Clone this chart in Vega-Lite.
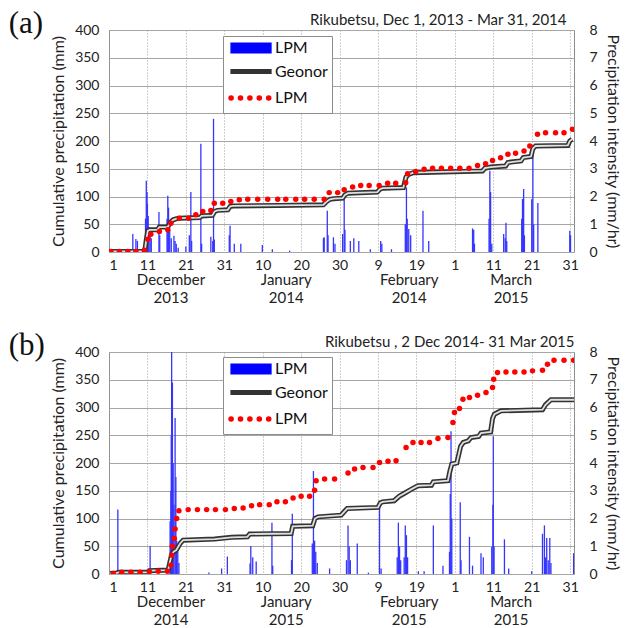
{
"$schema": "https://vega.github.io/schema/vega-lite/v6.json",
"background": "white",
"padding": {"left": 8, "top": 7, "right": 1, "bottom": 1},
"config": {
  "view": {"stroke": "#8c8c8c", "strokeWidth": 1},
  "font": "Lato",
  "axis": {"labelFont": "Lato", "titleFont": "Lato", "labelColor": "#222", "titleColor": "#222", "titleFontWeight": "normal", "labelFontSize": 14, "titleFontSize": 16},
  "legend": {"orient": "none", "legendX": 114, "legendY": 6, "title": null, "strokeColor": "#8c8c8c", "fillColor": "white", "padding": 4, "labelFont": "Lato", "labelFontSize": 16, "labelColor": "#111", "symbolSize": 324, "rowPadding": 7.5, "labelOffset": 32, "labelLimit": 300}
},
"datasets": {
  "a_int": [
    {"day":7.2,"v":0.65},{"day":8,"v":0.47},{"day":8.4,"v":0.4},{"day":10.5,"v":1.2},{"day":10.7,"v":2.57},{"day":10.9,"v":2.16},{"day":11.0,"v":1.74},{"day":11.2,"v":1.3},{"day":11.4,"v":0.9},{"day":11.7,"v":0.83},{"day":12,"v":0.5},{"day":14,"v":1.44},{"day":14.2,"v":0.6},{"day":16.1,"v":1.2},{"day":16.3,"v":2.03},{"day":16.5,"v":1.6},{"day":16.8,"v":0.8},{"day":17.2,"v":0.5},{"day":17.9,"v":0.59},{"day":18.2,"v":0.4},{"day":18.5,"v":0.3},{"day":19,"v":0.15},{"day":21,"v":0.2},{"day":21.9,"v":0.6},{"day":22.3,"v":2.16},{"day":22.5,"v":0.4},{"day":24.9,"v":3.9},{"day":25.1,"v":0.3},{"day":27.5,"v":0.55},{"day":28.0,"v":0.4},{"day":28.2,"v":4.8},{"day":28.4,"v":0.45},{"day":32.3,"v":0.6},{"day":32.5,"v":0.95},{"day":33.6,"v":0.3},{"day":35.3,"v":0.3},{"day":40.9,"v":0.25},{"day":43.5,"v":0.1},{"day":48,"v":0.05},{"day":56.8,"v":0.5},{"day":57,"v":0.53},{"day":57.8,"v":1.49},{"day":58,"v":0.6},{"day":59.4,"v":0.53},{"day":59.8,"v":0.3},{"day":61.8,"v":0.65},{"day":62.2,"v":1.97},{"day":62.4,"v":0.8},{"day":63.8,"v":0.4},{"day":64.7,"v":0.5},{"day":66,"v":0.4},{"day":69,"v":0.1},{"day":71.7,"v":0.4},{"day":72,"v":0.3},{"day":74.5,"v":0.1},{"day":78.1,"v":1.0},{"day":78.4,"v":2.33},{"day":78.6,"v":1.2},{"day":79,"v":0.83},{"day":79.5,"v":0.6},{"day":82.7,"v":1.49},{"day":84.2,"v":0.4},{"day":95.6,"v":0.85},{"day":95.9,"v":0.8},{"day":96.1,"v":0.3},{"day":99.9,"v":1.2},{"day":100.1,"v":2.93},{"day":100.3,"v":2.16},{"day":100.6,"v":0.3},{"day":103.7,"v":0.65},{"day":104.1,"v":0.5},{"day":104.3,"v":1.05},{"day":104.5,"v":0.4},{"day":108.4,"v":1.2},{"day":108.6,"v":1.91},{"day":108.9,"v":2.27},{"day":109.1,"v":0.6},{"day":111,"v":1.9},{"day":111.3,"v":3.85},{"day":111.5,"v":1.0},{"day":112.6,"v":1.77},{"day":120.9,"v":0.77},{"day":121.1,"v":0.6}
  ],
  "a_geo": [
    {"day":1,"v":1},{"day":10.3,"v":1},{"day":10.7,"v":22},{"day":11.1,"v":38},{"day":11.6,"v":40},{"day":13.6,"v":40},{"day":14.1,"v":45},{"day":16.3,"v":45},{"day":16.9,"v":53},{"day":17.7,"v":58},{"day":18.6,"v":60},{"day":19.3,"v":61},{"day":24.6,"v":62},{"day":25.1,"v":65},{"day":27.9,"v":66},{"day":28.5,"v":73},{"day":29.2,"v":75},{"day":31.9,"v":76},{"day":32.5,"v":82},{"day":33.2,"v":83},{"day":45,"v":84},{"day":56.8,"v":85},{"day":57.5,"v":90},{"day":58.5,"v":95},{"day":59.5,"v":96},{"day":61.8,"v":97},{"day":62.4,"v":103},{"day":63.2,"v":106},{"day":70.8,"v":108},{"day":71.5,"v":113},{"day":72.2,"v":115},{"day":77.6,"v":116},{"day":78.3,"v":135},{"day":79,"v":140},{"day":80.2,"v":143},{"day":98.2,"v":146},{"day":98.8,"v":151},{"day":100.3,"v":153},{"day":104.2,"v":155},{"day":104.8,"v":161},{"day":105.6,"v":162},{"day":108.2,"v":164},{"day":108.8,"v":170},{"day":110.8,"v":172},{"day":111.3,"v":186},{"day":112,"v":191},{"day":120.4,"v":192},{"day":120.9,"v":200},{"day":121.5,"v":203}
  ],
  "a_lpm": [
    {"day":1.5,"v":1},{"day":3.7,"v":1},{"day":5.9,"v":1},{"day":8.0,"v":1},{"day":10.2,"v":3},{"day":11.1,"v":23},{"day":11.9,"v":32},{"day":14.1,"v":37},{"day":16.3,"v":40},{"day":17.1,"v":52},{"day":19.3,"v":61},{"day":21.7,"v":61},{"day":23.6,"v":67},{"day":25.4,"v":73},{"day":27.5,"v":75},{"day":28.4,"v":88},{"day":30.6,"v":88},{"day":32.7,"v":91},{"day":34.9,"v":94},{"day":37.1,"v":95},{"day":39.7,"v":95},{"day":42.3,"v":95},{"day":44.9,"v":95},{"day":47.0,"v":95},{"day":49.6,"v":95},{"day":51.9,"v":95},{"day":54.4,"v":95},{"day":57.0,"v":95},{"day":58.3,"v":107},{"day":60.5,"v":107},{"day":62.2,"v":112},{"day":64.4,"v":117},{"day":66.5,"v":120},{"day":68.7,"v":120},{"day":71.3,"v":120},{"day":73.5,"v":124},{"day":75.6,"v":124},{"day":78.2,"v":125},{"day":78.7,"v":141},{"day":80.8,"v":145},{"day":83.0,"v":149},{"day":85.2,"v":151},{"day":87.5,"v":151},{"day":89.9,"v":151},{"day":92.3,"v":151},{"day":94.7,"v":151},{"day":96.9,"v":156},{"day":99.0,"v":159},{"day":100.8,"v":165},{"day":102.9,"v":170},{"day":104.8,"v":176},{"day":106.8,"v":178},{"day":109.0,"v":182},{"day":110.5,"v":191},{"day":112.5,"v":212},{"day":114.6,"v":215},{"day":117.2,"v":215},{"day":119.4,"v":215},{"day":121.6,"v":221}
  ],
  "b_int": [
    {"day":3.3,"v":2.32},{"day":11.7,"v":1.01},{"day":16.9,"v":1.9},{"day":17.1,"v":3.0},{"day":17.2,"v":5.0},{"day":17.3,"v":8.0},{"day":17.5,"v":6.9},{"day":17.7,"v":4.0},{"day":17.9,"v":2.5},{"day":18.2,"v":5.62},{"day":18.4,"v":3.5},{"day":18.6,"v":1.2},{"day":18.9,"v":0.8},{"day":19.2,"v":0.4},{"day":27,"v":0.05},{"day":30.3,"v":0.2},{"day":31.8,"v":0.63},{"day":37.7,"v":0.38},{"day":37.9,"v":1.01},{"day":38.4,"v":0.6},{"day":39.3,"v":0.45},{"day":43.4,"v":1.85},{"day":43.6,"v":0.3},{"day":48.5,"v":0.5},{"day":48.7,"v":2.17},{"day":53.9,"v":1.1},{"day":54.2,"v":3.71},{"day":54.5,"v":1.2},{"day":54.8,"v":0.8},{"day":55.2,"v":0.4},{"day":58.4,"v":0.2},{"day":62.8,"v":0.5},{"day":63.2,"v":1.75},{"day":63.5,"v":1.0},{"day":63.8,"v":0.5},{"day":65.6,"v":1.1},{"day":68.5,"v":0.05},{"day":71.4,"v":2.64},{"day":71.8,"v":0.2},{"day":76.0,"v":0.6},{"day":76.3,"v":1.85},{"day":76.6,"v":1.0},{"day":76.9,"v":0.5},{"day":77.8,"v":0.6},{"day":78.1,"v":1.75},{"day":78.4,"v":1.4},{"day":78.7,"v":0.6},{"day":81.5,"v":0.1},{"day":83,"v":0.1},{"day":85.4,"v":1.75},{"day":87.9,"v":0.3},{"day":89.6,"v":0.8},{"day":89.8,"v":2.88},{"day":90.0,"v":5.14},{"day":90.2,"v":2.0},{"day":92.4,"v":2.59},{"day":92.6,"v":0.5},{"day":94.8,"v":1.34},{"day":95.6,"v":0.3},{"day":97.8,"v":0.75},{"day":98.4,"v":0.6},{"day":100.6,"v":0.98},{"day":100.9,"v":2.5},{"day":101.0,"v":4.96},{"day":101.2,"v":1.0},{"day":103.9,"v":1.25},{"day":105,"v":0.2},{"day":111,"v":0.1},{"day":113.8,"v":1.45},{"day":114.3,"v":1.75},{"day":114.6,"v":0.6},{"day":114.9,"v":1.3},{"day":115.3,"v":0.5},{"day":115.7,"v":1.3},{"day":116.0,"v":0.4},{"day":121.9,"v":0.75}
  ],
  "b_geo": [
    {"day":1.3,"v":1},{"day":3,"v":2},{"day":3.5,"v":3},{"day":11,"v":3},{"day":11.5,"v":6},{"day":16.4,"v":7},{"day":16.8,"v":20},{"day":17.3,"v":35},{"day":17.8,"v":40},{"day":18.5,"v":43},{"day":19.5,"v":55},{"day":20.3,"v":61},{"day":28.5,"v":63},{"day":32.9,"v":66},{"day":37,"v":67},{"day":37.6,"v":72},{"day":48.4,"v":73},{"day":48.8,"v":86},{"day":54,"v":87},{"day":54.6,"v":100},{"day":55.4,"v":103},{"day":61.4,"v":106},{"day":62.3,"v":113},{"day":63,"v":118},{"day":71,"v":120},{"day":71.6,"v":128},{"day":72.2,"v":130},{"day":75.2,"v":132},{"day":76.5,"v":140},{"day":78,"v":146},{"day":79.5,"v":152},{"day":81.4,"v":159},{"day":84.9,"v":160},{"day":85.4,"v":166},{"day":89.2,"v":168},{"day":89.7,"v":185},{"day":90.2,"v":198},{"day":91.5,"v":200},{"day":92.5,"v":230},{"day":93.2,"v":237},{"day":94.5,"v":240},{"day":95.2,"v":246},{"day":97.2,"v":248},{"day":97.8,"v":254},{"day":100.3,"v":256},{"day":100.8,"v":280},{"day":101.3,"v":288},{"day":103,"v":294},{"day":113.8,"v":296},{"day":114.6,"v":305},{"day":116,"v":314},{"day":122,"v":314}
  ],
  "b_lpm": [
    {"day":2.1,"v":1},{"day":4.3,"v":3},{"day":6.7,"v":3},{"day":9.1,"v":3},{"day":11.5,"v":4},{"day":13.8,"v":5},{"day":16.2,"v":5},{"day":17.1,"v":16},{"day":17.3,"v":34},{"day":17.5,"v":50},{"day":18.0,"v":64},{"day":18.2,"v":81},{"day":18.6,"v":100},{"day":19.2,"v":114},{"day":21.6,"v":116},{"day":24.0,"v":116},{"day":26.4,"v":116},{"day":28.7,"v":116},{"day":31.3,"v":116},{"day":33.6,"v":118},{"day":35.9,"v":119},{"day":38.1,"v":123},{"day":40.2,"v":125},{"day":42.7,"v":125},{"day":44.7,"v":130},{"day":46.9,"v":130},{"day":48.9,"v":137},{"day":51.0,"v":140},{"day":53.2,"v":140},{"day":54.5,"v":151},{"day":54.9,"v":168},{"day":57.1,"v":171},{"day":59.7,"v":171},{"day":63.2,"v":182},{"day":64.9,"v":189},{"day":67.1,"v":192},{"day":69.7,"v":192},{"day":71.4,"v":201},{"day":73.6,"v":203},{"day":75.7,"v":204},{"day":78.3,"v":228},{"day":80.1,"v":237},{"day":82.2,"v":237},{"day":84.4,"v":237},{"day":86.6,"v":244},{"day":89.2,"v":246},{"day":90.5,"v":273},{"day":90.9,"v":291},{"day":92.2,"v":298},{"day":93.1,"v":315},{"day":94.8,"v":318},{"day":96.9,"v":322},{"day":99.1,"v":327},{"day":100.8,"v":336},{"day":101.1,"v":351},{"day":102.1,"v":363},{"day":104.3,"v":364},{"day":106.6,"v":364},{"day":109,"v":364},{"day":111.2,"v":366},{"day":113.8,"v":367},{"day":115.1,"v":378},{"day":116.8,"v":385},{"day":119.4,"v":385},{"day":121.9,"v":385}
  ]
},
"spacing": 23,
"resolve": {"scale": {"color": "independent"}, "legend": {"color": "independent"}},
"vconcat": [
{
  "width": 465, "height": 222,
  "title": {"text": "(a)", "anchor": "start", "frame": "bounds", "font": "Liberation Serif", "fontSize": 31, "fontWeight": "normal", "color": "#111", "dx": -42, "offset": -28},
  "resolve": {"scale": {"y": "independent"}, "axis": {"x": "independent", "y": "independent"}},
  "layer": [
    {"data": {"name": "a_int"}, "mark": {"type": "rule", "strokeWidth": 1.3, "color": "#3535ff", "clip": true},
     "encoding": {
       "x": {"field": "day", "type": "quantitative", "scale": {"domain": [1, 122], "nice": false, "zero": false},
             "axis": {"orient": "bottom", "values": [1,11,21,31,41,51,61,71,81,91,101,111,121], "labelExpr": "datum.value <= 31 ? datum.value : datum.value <= 62 ? datum.value - 31 : datum.value <= 90 ? datum.value - 62 : datum.value - 90", "title": null, "ticks": false, "domain": false, "labelPadding": 6, "grid": true, "gridColor": "#a0a0a0", "gridDash": [1, 2], "gridWidth": 1}},
       "y": {"field": "v", "type": "quantitative", "scale": {"domain": [0, 8], "nice": false},
             "axis": {"orient": "right", "title": "Precipitation intensity (mm/hr)", "values": [0,1,2,3,4,5,6,7,8], "grid": false, "ticks": false, "domain": false, "labelPadding": 15, "titlePadding": 7}},
       "y2": {"datum": 0}
     }},
    {"data": {"name": "a_geo"}, "mark": {"type": "line", "strokeWidth": 5, "clip": true},
     "encoding": {
       "x": {"field": "day", "type": "quantitative", "scale": {"domain": [1, 122], "nice": false, "zero": false},
             "axis": {"orient": "bottom", "values": [17, 47, 79, 105.5], "labelExpr": "datum.value < 30 ? 'December' : datum.value < 60 ? 'January' : datum.value < 90 ? 'February' : 'March'", "title": null, "ticks": false, "domain": false, "grid": false, "labelPadding": 20, "labelFontSize": 15}},
       "y": {"field": "v", "type": "quantitative", "scale": {"domain": [0, 400], "nice": false},
             "axis": {"orient": "left", "title": "Cumulative precipitation (mm)", "values": [0,50,100,150,200,250,300,350,400], "grid": true, "gridColor": "#a6a6a6", "gridWidth": 1, "ticks": false, "domain": false, "labelPadding": 10, "titlePadding": 8}},
       "color": {"datum": "Geonor", "scale": {"domain": ["LPM_bar", "Geonor", "LPM_dot"], "range": ["#0000ff", "#333333", "#ff0000"]},
         "legend": {"labelExpr": "datum.value == 'Geonor' ? 'Geonor' : 'LPM'",
           "encode": {"symbols": {"update": {
             "shape": {"signal": "datum.value == 'LPM_dot' ? 'M-0.44,0H4' : datum.value == 'Geonor' ? 'M-0.44,-0.2H4V0.2H-0.44Z' : 'M-0.44,-0.55H4V0.55H-0.44Z'"},
             "fill": {"signal": "datum.value == 'LPM_bar' ? '#0000ff' : datum.value == 'Geonor' ? '#d9d9d9' : 'transparent'"},
             "stroke": {"signal": "datum.value == 'LPM_bar' ? '#0000ff' : datum.value == 'Geonor' ? '#333333' : '#ff0000'"},
             "strokeWidth": {"signal": "datum.value == 'LPM_dot' ? 5.5 : 1.3"},
             "strokeDash": {"signal": "datum.value == 'LPM_dot' ? [0.1, 9.3] : [1, 0]"},
             "strokeCap": {"value": "round"},
             "opacity": {"value": 1}
           }}}}}
     }},
    {"data": {"name": "a_geo"}, "mark": {"type": "line", "strokeWidth": 1.8, "color": "#e0e0e0", "clip": true},
     "encoding": {
       "x": {"field": "day", "type": "quantitative", "scale": {"domain": [1, 122], "nice": false, "zero": false},
             "axis": {"orient": "top", "labels": false, "ticks": false, "domain": false, "grid": false, "title": "Rikubetsu, Dec 1, 2013 - Mar 31, 2014", "titleX": 457, "titleAlign": "right", "titleFontSize": 15, "titlePadding": 3}},
       "y": {"field": "v", "type": "quantitative", "scale": {"domain": [0, 400], "nice": false}, "axis": null}
     }},
    {"data": {"name": "a_lpm"}, "mark": {"type": "point", "filled": true, "size": 30, "opacity": 1, "clip": true},
     "encoding": {
       "x": {"field": "day", "type": "quantitative", "scale": {"domain": [1, 122], "nice": false, "zero": false},
             "axis": {"orient": "bottom", "values": [17, 47, 79, 105.5], "labelExpr": "datum.value < 30 ? '2013' : datum.value < 90 ? '2014' : '2015'", "title": null, "ticks": false, "domain": false, "grid": false, "labelPadding": 38, "labelFontSize": 15}},
       "y": {"field": "v", "type": "quantitative", "scale": {"domain": [0, 400], "nice": false}, "axis": null},
       "color": {"datum": "LPM_dot"}
     }}
  ]
},
{
  "width": 465, "height": 222,
  "title": {"text": "(b)", "anchor": "start", "frame": "bounds", "font": "Liberation Serif", "fontSize": 31, "fontWeight": "normal", "color": "#111", "dx": -42, "offset": -28},
  "resolve": {"scale": {"y": "independent"}, "axis": {"x": "independent", "y": "independent"}},
  "layer": [
    {"data": {"name": "b_int"}, "mark": {"type": "rule", "strokeWidth": 1.3, "color": "#3535ff", "clip": true},
     "encoding": {
       "x": {"field": "day", "type": "quantitative", "scale": {"domain": [1, 122], "nice": false, "zero": false},
             "axis": {"orient": "bottom", "values": [1,11,21,31,41,51,61,71,81,91,101,111,121], "labelExpr": "datum.value <= 31 ? datum.value : datum.value <= 62 ? datum.value - 31 : datum.value <= 90 ? datum.value - 62 : datum.value - 90", "title": null, "ticks": false, "domain": false, "labelPadding": 6, "grid": true, "gridColor": "#a0a0a0", "gridDash": [1, 2], "gridWidth": 1}},
       "y": {"field": "v", "type": "quantitative", "scale": {"domain": [0, 8], "nice": false},
             "axis": {"orient": "right", "title": "Precipitation intensity (mm/hr)", "values": [0,1,2,3,4,5,6,7,8], "grid": false, "ticks": false, "domain": false, "labelPadding": 15, "titlePadding": 7}},
       "y2": {"datum": 0}
     }},
    {"data": {"name": "b_geo"}, "mark": {"type": "line", "strokeWidth": 5, "clip": true},
     "encoding": {
       "x": {"field": "day", "type": "quantitative", "scale": {"domain": [1, 122], "nice": false, "zero": false},
             "axis": {"orient": "bottom", "values": [17, 47, 79, 105.5], "labelExpr": "datum.value < 30 ? 'December' : datum.value < 60 ? 'January' : datum.value < 90 ? 'February' : 'March'", "title": null, "ticks": false, "domain": false, "grid": false, "labelPadding": 20, "labelFontSize": 15}},
       "y": {"field": "v", "type": "quantitative", "scale": {"domain": [0, 400], "nice": false},
             "axis": {"orient": "left", "title": "Cumulative precipitation (mm)", "values": [0,50,100,150,200,250,300,350,400], "grid": true, "gridColor": "#a6a6a6", "gridWidth": 1, "ticks": false, "domain": false, "labelPadding": 10, "titlePadding": 8}},
       "color": {"datum": "Geonor", "scale": {"domain": ["LPM_bar", "Geonor", "LPM_dot"], "range": ["#0000ff", "#333333", "#ff0000"]},
         "legend": {"legendY": 5, "labelExpr": "datum.value == 'Geonor' ? 'Geonor' : 'LPM'",
           "encode": {"symbols": {"update": {
             "shape": {"signal": "datum.value == 'LPM_dot' ? 'M-0.44,0H4' : datum.value == 'Geonor' ? 'M-0.44,-0.2H4V0.2H-0.44Z' : 'M-0.44,-0.55H4V0.55H-0.44Z'"},
             "fill": {"signal": "datum.value == 'LPM_bar' ? '#0000ff' : datum.value == 'Geonor' ? '#d9d9d9' : 'transparent'"},
             "stroke": {"signal": "datum.value == 'LPM_bar' ? '#0000ff' : datum.value == 'Geonor' ? '#333333' : '#ff0000'"},
             "strokeWidth": {"signal": "datum.value == 'LPM_dot' ? 5.5 : 1.3"},
             "strokeDash": {"signal": "datum.value == 'LPM_dot' ? [0.1, 9.3] : [1, 0]"},
             "strokeCap": {"value": "round"},
             "opacity": {"value": 1}
           }}}}}
     }},
    {"data": {"name": "b_geo"}, "mark": {"type": "line", "strokeWidth": 1.8, "color": "#e0e0e0", "clip": true},
     "encoding": {
       "x": {"field": "day", "type": "quantitative", "scale": {"domain": [1, 122], "nice": false, "zero": false},
             "axis": {"orient": "top", "labels": false, "ticks": false, "domain": false, "grid": false, "title": "Rikubetsu , 2 Dec 2014- 31 Mar 2015", "titleX": 465, "titleAlign": "right", "titleFontSize": 15, "titlePadding": 3}},
       "y": {"field": "v", "type": "quantitative", "scale": {"domain": [0, 400], "nice": false}, "axis": null}
     }},
    {"data": {"name": "b_lpm"}, "mark": {"type": "point", "filled": true, "size": 30, "opacity": 1, "clip": true},
     "encoding": {
       "x": {"field": "day", "type": "quantitative", "scale": {"domain": [1, 122], "nice": false, "zero": false},
             "axis": {"orient": "bottom", "values": [17, 47, 79, 105.5], "labelExpr": "datum.value < 30 ? '2014' : '2015'", "title": null, "ticks": false, "domain": false, "grid": false, "labelPadding": 38, "labelFontSize": 15}},
       "y": {"field": "v", "type": "quantitative", "scale": {"domain": [0, 400], "nice": false}, "axis": null},
       "color": {"datum": "LPM_dot"}
     }}
  ]
}
]
}
